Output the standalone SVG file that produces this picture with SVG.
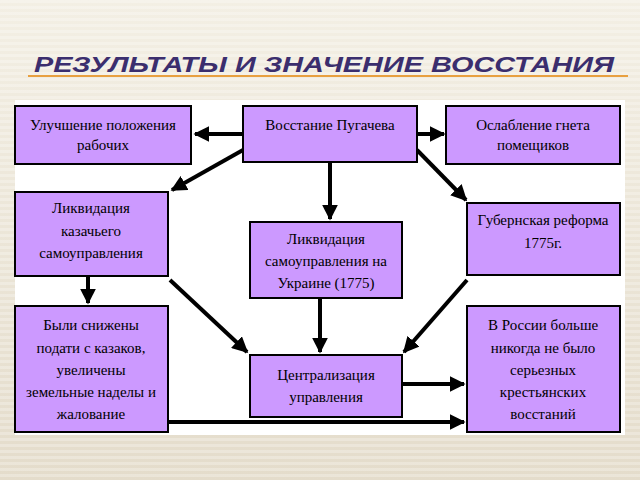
<svg xmlns="http://www.w3.org/2000/svg" width="640" height="480" viewBox="0 0 640 480">
<defs>
<linearGradient id="bg" x1="0" y1="0" x2="0" y2="1"><stop offset="0" stop-color="#f3efe4"/><stop offset="1" stop-color="#e4dccb"/></linearGradient>
<pattern id="st" width="640" height="6" patternUnits="userSpaceOnUse"><rect width="640" height="3" fill="#ffffff" opacity="0.25"/></pattern>
<marker id="ah" viewBox="0 0 10 10" refX="9" refY="5" markerWidth="4" markerHeight="4" orient="auto"><path d="M0,0L10,5L0,10z" fill="#000"/></marker>
<style>
.b{fill:#cc99ff;stroke:#000;stroke-width:2}
.t{font-family:"Liberation Serif",serif;font-size:15px;fill:#000;text-anchor:middle}
.c{stroke:#000;stroke-width:4;fill:none;marker-end:url(#ah)}
</style>
</defs>
<rect width="640" height="480" fill="url(#bg)"/>
<rect width="640" height="480" fill="url(#st)"/>
<text x="34" y="72" font-family="Liberation Sans,sans-serif" font-size="22" font-weight="bold" font-style="italic" fill="#3b2e6e" textLength="580" lengthAdjust="spacingAndGlyphs">РЕЗУЛЬТАТЫ И ЗНАЧЕНИЕ ВОССТАНИЯ</text>
<rect x="28" y="75" width="600" height="2" fill="#e8a040"/>
<rect x="15" y="100" width="610" height="335" fill="#fff"/>
<g id="connectors">
<line class="c" x1="243" y1="134" x2="195" y2="134"/>
<line class="c" x1="417" y1="134" x2="444" y2="134"/>
<line class="c" x1="330" y1="162" x2="330" y2="219"/>
<line class="c" x1="243" y1="150" x2="172" y2="190"/>
<line class="c" x1="417" y1="150" x2="466" y2="200"/>
<line class="c" x1="88" y1="276" x2="88" y2="303"/>
<line class="c" x1="170" y1="280" x2="247" y2="352"/>
<line class="c" x1="467" y1="280" x2="404" y2="352"/>
<line class="c" x1="320" y1="298" x2="320" y2="352"/>
<line class="c" x1="402" y1="384" x2="464" y2="384"/>
<line class="c" x1="168" y1="422" x2="464" y2="422"/>
</g>
<g id="n1"><rect class="b" x="15" y="106" width="176" height="58"/><text class="t" x="103" y="130">Улучшение положения</text><text class="t" x="103" y="150">рабочих</text></g>
<g id="n2"><rect class="b" x="243" y="106" width="174" height="56"/><text class="t" x="330" y="130">Восстание Пугачева</text></g>
<g id="n3"><rect class="b" x="446" y="106" width="174" height="58"/><text class="t" x="533" y="130">Ослабление гнета</text><text class="t" x="533" y="150">помещиков</text></g>
<g id="n4"><rect class="b" x="15" y="192" width="153" height="84"/><text class="t" x="91" y="213">Ликвидация</text><text class="t" x="91" y="236">казачьего</text><text class="t" x="91" y="258">самоуправления</text></g>
<g id="n5"><rect class="b" x="250" y="222" width="152" height="76"/><text class="t" x="326" y="244">Ликвидация</text><text class="t" x="326" y="266">самоуправления на</text><text class="t" x="326" y="288">Украине (1775)</text></g>
<g id="n6"><rect class="b" x="467" y="203" width="153" height="72"/><text class="t" x="543" y="225">Губернская реформа</text><text class="t" x="543" y="248">1775г.</text></g>
<g id="n7"><rect class="b" x="15" y="306" width="153" height="126"/><text class="t" x="91" y="330">Были снижены</text><text class="t" x="91" y="353">подати с казаков,</text><text class="t" x="91" y="375">увеличены</text><text class="t" x="91" y="397">земельные наделы и</text><text class="t" x="91" y="419">жалование</text></g>
<g id="n8"><rect class="b" x="250" y="355" width="152" height="62"/><text class="t" x="326" y="380">Централизация</text><text class="t" x="326" y="402">управления</text></g>
<g id="n9"><rect class="b" x="467" y="306" width="153" height="126"/><text class="t" x="543" y="330">В России больше</text><text class="t" x="543" y="353">никогда не было</text><text class="t" x="543" y="375">серьезных</text><text class="t" x="543" y="397">крестьянских</text><text class="t" x="543" y="419">восстаний</text></g>
</svg>
